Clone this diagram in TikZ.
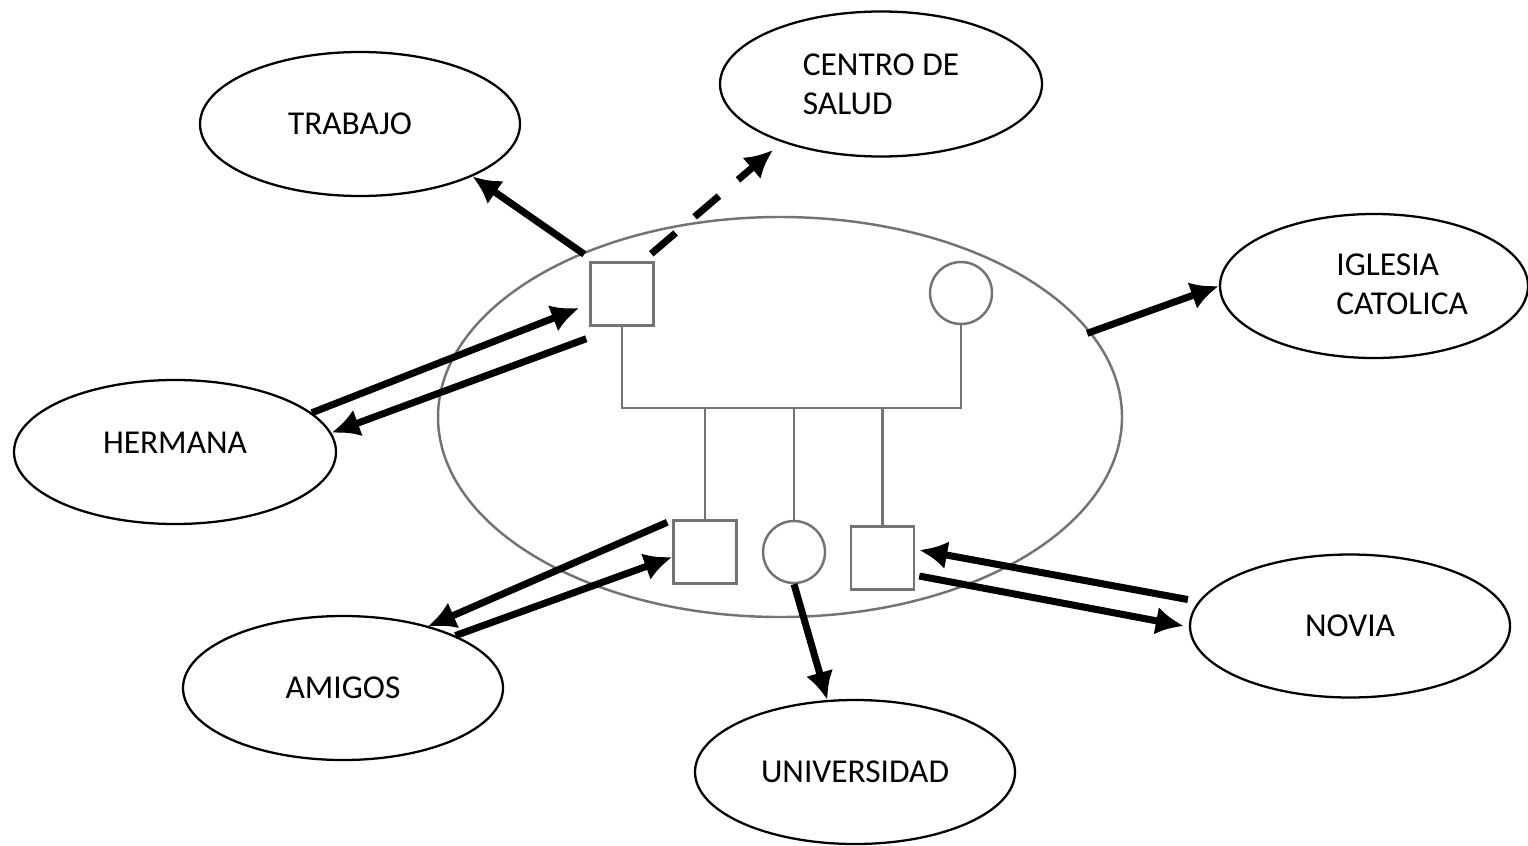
\documentclass[tikz,border=0pt]{standalone}
\usepackage{fontspec}
\setmainfont{Carlito}
\usetikzlibrary{shapes.geometric,arrows.meta}

\begin{document}
\begin{tikzpicture}[
    elip/.style={draw, ellipse, line width=0.65pt, inner sep=0pt,
                 font=\fontsize{9.5}{11.2}\selectfont},
    every label/.style={font=\fontsize{9.5}{11.2}\selectfont},
    fam/.style={draw=black!55, line width=0.7pt},
    rel/.style={line width=2pt, -{Latex[length=0.28cm, width=0.28cm]}}
]

    % Fix the size of the picture
    \useasboundingbox (0, 0) rectangle (15.28, 8.45);

    % Family ellipse
    \node[fam, ellipse, minimum width=6.84cm, minimum height=4.00cm] (familia) at (7.80, 4.28) {};

    % Parents
    \node[fam, rectangle, minimum size=0.63cm] (padre) at (6.22, 5.51) {};
    \node[fam, circle, minimum size=0.62cm] (madre) at (9.61, 5.52) {};

    % Children
    \node[fam, rectangle, minimum size=0.63cm] (hijo1) at (7.05, 2.93) {};
    \node[fam, circle, minimum size=0.62cm] (hija) at (7.94, 2.93) {};
    \node[fam, rectangle, minimum size=0.63cm] (hijo2) at (8.825, 2.87) {};

    % Bar joining parents and children
    \coordinate (barL) at (6.22, 4.37);
    \coordinate (barR) at (9.61, 4.37);
    \draw[fam] (padre.south) -- (barL) -- (barR) -- (madre.south);
    \draw[fam] (hijo1.north) -- (hijo1.north |- barL);
    \draw[fam] (hija.north) -- (hija.north |- barL);
    \draw[fam] (hijo2.north) -- (hijo2.north |- barL);

    % Outside systems
    \node[elip, minimum width=3.20cm, minimum height=1.44cm] (trabajo) at (3.60, 7.21) {\hspace{-0.2cm}TRABAJO};
    \node[elip, minimum width=3.22cm, minimum height=1.45cm, align=left] (salud) at (8.81, 7.61) {CENTRO DE\\SALUD};
    \node[elip, minimum width=3.08cm, minimum height=1.44cm] (iglesia) at (13.74, 5.59) {};
    \node[align=left, font=\fontsize{9.5}{11.2}\selectfont, anchor=west] at (13.24, 5.61) {IGLESIA\\CATOLICA};
    \node[elip, minimum width=3.22cm, minimum height=1.44cm,
          label={[yshift=0.09cm]center:HERMANA}] (hermana) at (1.75, 3.93) {};
    \node[elip, minimum width=3.20cm, minimum height=1.44cm] (amigos) at (3.43, 1.57) {AMIGOS};
    \node[elip, minimum width=3.20cm, minimum height=1.44cm] (universidad) at (8.55, 0.73) {UNIVERSIDAD};
    \node[elip, minimum width=3.20cm, minimum height=1.43cm] (novia) at (13.50, 2.19) {NOVIA};

    % End of the dashed arrow, short of the ellipse
    \coordinate (saludIn) at (7.73, 6.95);

    % Relations
    \draw[rel] ([shift={(-0.05,0.07)}]padre.north west) -- (trabajo.-25);
    \draw[rel, dash pattern=on 0.32cm off 0.25cm] ([shift={(-0.035,0.075)}]padre.north east) -- (saludIn);
    \draw[rel] (hermana.16) -- ([shift={(-0.1,-0.14)}]padre.west);
    \draw[rel] ([shift={(-0.03,-0.12)}]padre.south west) -- (hermana.7);
    \draw[rel] ([xshift=-0.05cm]familia.15) -- (iglesia.west);
    \draw[rel] ([shift={(-0.05,-0.03)}]hijo1.north west) -- ([xshift=-0.03cm]amigos.35);
    \draw[rel] (amigos.25) -- ([yshift=-0.05cm]hijo1.west);
    \draw[rel] (hija.south) -- (universidad.111);
    \draw[rel] ([xshift=-0.12cm]novia.170) -- ([shift={(0.04,0.08)}]hijo2.east);
    \draw[rel] ([shift={(0.04,-0.18)}]hijo2.east) -- ([xshift=-0.05cm]novia.west);

\end{tikzpicture}
\end{document}
